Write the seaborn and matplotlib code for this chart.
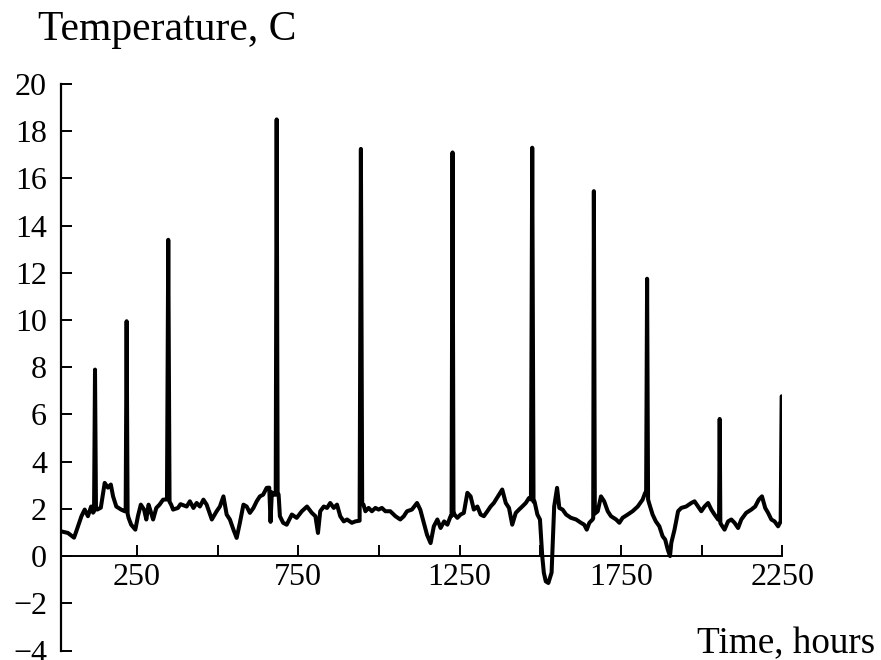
import matplotlib
matplotlib.use("Agg")
import matplotlib.pyplot as plt
import seaborn as sns
import pandas as pd

hours = [14, 36, 55, 62, 78, 88, 98, 108, 114, 117, 120, 123, 127, 138, 150, 160, 169, 176, 186, 201, 212,
         215, 218, 221, 224, 232, 245, 253, 262, 272, 279, 286, 294, 300, 310, 320, 331,
         343, 347, 351, 356, 362, 377, 385, 404, 414, 425, 435, 445, 456, 466, 482, 497, 507, 518, 528,
         538, 549, 559, 569, 580, 590, 600, 611, 621, 631, 641, 652, 660, 664, 668, 674,
         680, 683, 686, 689, 693, 703, 714, 730, 745, 761, 777, 792, 803, 811, 818, 829, 839, 849, 860,
         870, 880, 891, 901, 916, 927, 940, 944, 948, 952, 958, 968, 978, 989, 999, 1009, 1020, 1035,
         1051, 1066, 1077, 1087, 1102, 1118, 1128, 1139, 1149, 1160, 1170, 1181, 1191, 1202, 1212, 1222,
         1225, 1228, 1231, 1234, 1243, 1253, 1263, 1274, 1284, 1294, 1305, 1315, 1325, 1336, 1346, 1356,
         1372, 1382, 1393, 1403, 1413, 1424, 1434, 1444, 1455, 1465, 1471, 1475, 1479, 1482, 1491, 1499,
         1506, 1511, 1517, 1525, 1535, 1543, 1552, 1559, 1569, 1580, 1595, 1611, 1626, 1636, 1644, 1652,
         1662, 1664, 1666, 1669, 1678, 1688, 1698, 1709, 1719, 1735, 1745, 1755, 1771, 1786, 1802, 1817,
         1825, 1828, 1831, 1834, 1837, 1848, 1858, 1869, 1879, 1887, 1895, 1902, 1906, 1916, 1927, 1937,
         1952, 1968, 1978, 1989, 1999, 2009, 2020, 2030, 2040, 2051, 2054, 2056, 2058, 2061, 2071, 2082,
         2092, 2102, 2113, 2123, 2138, 2154, 2166, 2177, 2187, 2197, 2206, 2216, 2226, 2237, 2245, 2248]

temperature = [1.05, 0.98, 0.78, 1.05, 1.69, 1.97, 1.69, 2.10, 1.84, 1.90, 7.90, 2.00, 1.97, 2.05, 3.10, 2.90, 3.03, 2.53, 2.10, 1.97, 1.90,
               1.90, 9.95, 1.80, 1.62, 1.33, 1.12, 1.69, 2.18, 1.97, 1.55, 2.18, 1.83, 1.55, 2.04, 2.18, 2.39,
               2.40, 13.40, 2.30, 2.18, 1.97, 2.04, 2.20, 2.10, 2.32, 2.04, 2.25, 2.10, 2.39, 2.18, 1.55, 1.90, 2.10, 2.53, 1.76,
               1.55, 1.12, 0.77, 1.41, 2.18, 2.10, 1.83, 2.04, 2.32, 2.53, 2.60, 2.89, 2.90, 1.45, 2.70, 2.60,
               2.60, 18.50, 2.70, 2.60, 1.69, 1.41, 1.33, 1.76, 1.62, 1.90, 2.10, 1.83, 1.69, 0.98, 1.90, 2.10, 2.04, 2.25, 2.04,
               2.18, 1.69, 1.47, 1.55, 1.41, 1.47, 1.50, 17.25, 2.20, 2.18, 1.90, 2.04, 1.90, 2.04, 1.97, 2.04, 1.90, 1.90,
               1.69, 1.55, 1.69, 1.90, 1.97, 2.25, 1.97, 1.40, 0.90, 0.55, 1.26, 1.55, 1.19, 1.47, 1.33, 1.69,
               1.70, 17.10, 1.90, 1.76, 1.62, 1.76, 1.83, 2.68, 2.53, 1.97, 2.10, 1.76, 1.69, 1.90, 2.10, 2.25,
               2.60, 2.82, 2.25, 2.04, 1.33, 1.83, 1.97, 2.10, 2.25, 2.46, 2.40, 17.30, 2.30, 2.32, 1.76, 1.55,
               0.00, -0.71, -1.07, -1.14, -0.70, 2.10, 2.89, 2.04, 1.97, 1.76, 1.62, 1.55, 1.41, 1.33, 1.12, 1.41,
               1.55, 1.60, 15.46, 1.80, 1.90, 2.53, 2.32, 1.90, 1.69, 1.55, 1.41, 1.62, 1.76, 1.90, 2.10, 2.39,
               2.68, 2.70, 11.75, 2.40, 2.25, 1.76, 1.47, 1.26, 0.84, 0.70, 0.28, 0.00, 0.56, 1.12, 1.90, 2.04,
               2.10, 2.25, 2.32, 2.10, 1.90, 2.10, 2.25, 1.97, 1.76, 1.55, 1.55, 5.81, 1.40, 1.33, 1.12, 1.47,
               1.55, 1.41, 1.19, 1.55, 1.83, 1.97, 2.10, 2.39, 2.53, 2.04, 1.83, 1.55, 1.47, 1.26, 1.47, 6.77]

x_ticks = [250, 500, 750, 1000, 1250, 1500, 1750, 2000, 2250]
x_tick_labels = ["250", "", "750", "", "1250", "", "1750", "", "2250"]
y_ticks = [-4, -2, 0, 2, 4, 6, 8, 10, 12, 14, 16, 18, 20]
y_tick_labels = ["\u22124", "\u22122", "0", "2", "4", "6", "8", "10", "12", "14", "16", "18", "20"]

df = pd.DataFrame({"hours": hours, "temperature": temperature})

sns.set_theme(style="white")
plt.rcParams["font.family"] = ["Liberation Serif", "DejaVu Serif"]

fig = plt.figure(figsize=(8.81, 6.60), dpi=100)
ax = fig.add_axes([61 / 881, 1 - 650.5 / 660, (782.3 - 61) / 881, (650.5 - 84) / 660])

sns.lineplot(data=df, x="hours", y="temperature", ax=ax, color="black",
             linewidth=2.9, sort=False, estimator=None)

ax.set_xlim(14.6, 2250)
ax.set_ylim(-4, 20)
ax.set_xlabel("")
ax.set_ylabel("")

for s in ["top", "right"]:
    ax.spines[s].set_visible(False)
ax.spines["bottom"].set_position(("data", 0))
ax.spines["bottom"].set_color("black")
ax.spines["left"].set_color("black")
ax.spines["bottom"].set_linewidth(1.4)
ax.spines["left"].set_linewidth(1.6)

ax.set_xticks(x_ticks)
ax.set_xticklabels(x_tick_labels)
ax.set_yticks(y_ticks)
ax.set_yticklabels(y_tick_labels)
ax.tick_params(axis="both", direction="in", length=8, width=1.4, colors="black", labelsize=23)
ax.tick_params(axis="x", pad=5)
ax.tick_params(axis="y", pad=10)
ax.tick_params(axis="both", left=True, bottom=True)

fig.text(38 / 881, 1 - 40 / 660, "Temperature, C", fontsize=30, color="black",
         ha="left", va="baseline")
fig.text(875 / 881, 1 - 653 / 660, "Time, hours", fontsize=26.7, color="black",
         ha="right", va="baseline")

fig.savefig("out.png", dpi=100, facecolor="white")
